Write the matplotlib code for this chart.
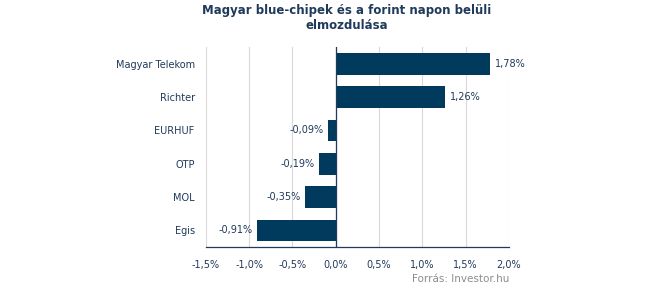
import matplotlib
matplotlib.use("Agg")
import matplotlib.pyplot as plt
from matplotlib.ticker import FuncFormatter

names = ["Magyar Telekom", "Richter", "EURHUF", "OTP", "MOL", "Egis"]
values = [1.78, 1.26, -0.09, -0.19, -0.35, -0.91]
xticks = [-1.5, -1.0, -0.5, 0.0, 0.5, 1.0, 1.5, 2.0]

NAVY = "#003a5c"; INK = "#1f3a5a"; GRID = "#d9d9d9"

plt.rcParams.update({"font.family": "DejaVu Sans"})
fig = plt.figure(figsize=(6.45, 2.85), dpi=100)
ax = fig.add_axes([0.319, 0.133, 0.47, 0.702])

ys = list(range(len(names)))
ax.barh(ys, values, height=0.65, color=NAVY, zorder=3)
ax.set_ylim(len(names) - 0.5, -0.5)
ax.set_xlim(-1.5, 2.0)
ax.set_xticks(xticks)
ax.xaxis.set_major_formatter(FuncFormatter(lambda v, p: f"{v:.1f}%".replace(".", ",")))
ax.set_yticks(ys)
ax.set_yticklabels(names)
ax.tick_params(axis="both", length=0, labelsize=7, colors=INK)
ax.tick_params(axis="x", pad=9)
ax.tick_params(axis="y", pad=8)
ax.grid(axis="x", color=GRID, lw=0.8, zorder=0)
ax.axvline(0, color=INK, lw=0.9, zorder=4)
for s in ["top", "right", "left"]:
    ax.spines[s].set_visible(False)
ax.spines["bottom"].set_color(INK)
ax.spines["bottom"].set_linewidth(0.9)

for y, v in zip(ys, values):
    lab = f"{v:.2f}%".replace(".", ",")
    if v >= 0:
        ax.text(v + 0.06, y, lab, va="center", ha="left", fontsize=7, color=INK, zorder=5)
    else:
        ax.text(v - 0.05, y, lab, va="center", ha="right", fontsize=7, color=INK, zorder=5)

fig.text(0.537, 0.985, "Magyar blue-chipek és a forint napon belüli\nelmozdulása",
         ha="center", va="top", fontsize=8.5, fontweight="bold", color=INK, linespacing=1.2)
fig.text(0.789, 0.005, "Forrás: Investor.hu", ha="right", va="bottom", fontsize=7.5, color="#8c8c8c")

fig.savefig("out.png", dpi=100)
